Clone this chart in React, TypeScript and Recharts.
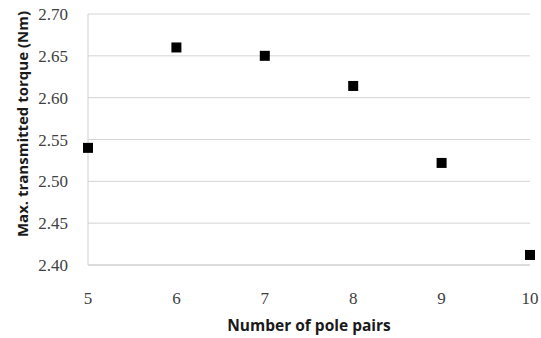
import { ScatterChart, Scatter, XAxis, YAxis, CartesianGrid, Label } from 'recharts';

const polePairs = [5, 6, 7, 8, 9, 10];
const maxTorque = [2.54, 2.66, 2.65, 2.614, 2.522, 2.412];
const xTicks = [5, 6, 7, 8, 9, 10];
const yTicks = [2.4, 2.45, 2.5, 2.55, 2.6, 2.65, 2.7];

const data = polePairs.map((p, i) => ({ x: p, y: maxTorque[i] }));

const serif = 'Liberation Serif';
const titleFont = 'Open Sans';

function XTick({ x, y, payload }: any) {
  return (
    <g>
      <text x={x} y={y} dy="0.71em" textAnchor="middle" fill="#404040" fontSize={17} fontFamily={serif}>
        {String(payload.value)}
      </text>
    </g>
  );
}

function YTick({ x, y, payload }: any) {
  return (
    <g>
      <text x={x} y={y} dy="0.355em" textAnchor="end" fill="#404040" fontSize={17} fontFamily={serif}>
        {Number(payload.value).toFixed(2)}
      </text>
    </g>
  );
}

function SquareDot({ cx, cy }: any) {
  return <rect x={cx - 5} y={cy - 5} width={10} height={10} fill="#000" />;
}

export default function App() {
  return (
    <div style={{ position: 'absolute', left: 0, top: 0, background: '#fff', fontFamily: serif }}>
      <ScatterChart width={541} height={338} margin={{ top: 14, right: 11, left: 0, bottom: 23 }}>
        <CartesianGrid vertical={false} stroke="#d4d4d4" />
        <XAxis
          type="number"
          dataKey="x"
          domain={[5, 10]}
          ticks={xTicks}
          tick={XTick}
          tickLine={false}
          tickSize={0}
          tickMargin={27}
          axisLine={{ stroke: '#cfcfcf' }}
          height={50}
        >
          <Label
            content={() => (
              <text x={309} y={331} textAnchor="middle" fontFamily={titleFont} fontWeight={700} fontSize={15.5} fill="#1a1a1a">
                Number of pole pairs
              </text>
            )}
          />
        </XAxis>
        <YAxis
          type="number"
          dataKey="y"
          domain={[2.4, 2.7]}
          ticks={yTicks}
          tick={YTick}
          tickLine={false}
          tickSize={0}
          tickMargin={20}
          axisLine={{ stroke: '#cfcfcf' }}
          width={88}
        >
          <Label
            content={() => (
              <text
                x={28}
                y={124}
                transform="rotate(-90 28 124)"
                textAnchor="middle"
                fontFamily={titleFont}
                fontWeight={700}
                fontSize={15}
                fill="#1a1a1a"
              >
                Max. transmitted torque (Nm)
              </text>
            )}
          />
        </YAxis>
        <Scatter data={data} shape={<SquareDot />} isAnimationActive={false} />
      </ScatterChart>
    </div>
  );
}
